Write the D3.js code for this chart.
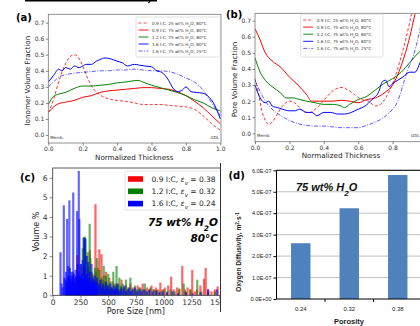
<!DOCTYPE html>
<html>
<head>
<meta charset="utf-8">
<script src="https://cdn.jsdelivr.net/npm/d3@7"></script>
<style>
  body { margin: 0; background: #fff; }
  svg { display: block; font-family: "DejaVu Sans", sans-serif; }
</style>
</head>
<body>
<svg id="fig" width="420" height="326"></svg>
<script>
// ---- data ----
const seriesLabels = [
  "0.9 I:C, 25 wt% H2O, 80°C",
  "0.9 I:C, 75 wt% H2O, 80°C",
  "1.2 I:C, 75 wt% H2O, 80°C",
  "1.6 I:C, 75 wt% H2O, 80°C",
  "1.6 I:C, 75 wt% H2O, 25°C"
];
const thicknessTicks = [0, 0.2, 0.4, 0.6, 0.8, 1.0];
const fractionTicks = [0, 0.1, 0.2, 0.3, 0.4, 0.5, 0.6, 0.7];

// (a) ionomer volume fraction vs normalized thickness
const ionomer25 = [[0,0.14],[0.03,0.22],[0.06,0.33],[0.09,0.42],[0.12,0.48],[0.15,0.50],[0.17,0.49],[0.2,0.43],[0.23,0.35],[0.26,0.29],[0.3,0.25],[0.35,0.225],[0.4,0.215],[0.45,0.21],[0.5,0.20],[0.55,0.19],[0.6,0.19],[0.65,0.19],[0.7,0.185],[0.75,0.18],[0.8,0.175],[0.85,0.16],[0.9,0.12],[0.95,0.07],[1.0,0.03]];
const ionomer09 = [[0,0.14],[0.05,0.19],[0.1,0.205],[0.15,0.215],[0.2,0.235],[0.25,0.245],[0.3,0.265],[0.35,0.275],[0.4,0.28],[0.45,0.285],[0.5,0.29],[0.55,0.295],[0.6,0.295],[0.65,0.29],[0.7,0.285],[0.75,0.27],[0.8,0.245],[0.85,0.21],[0.9,0.17],[0.95,0.12],[1.0,0.07]];
const ionomer12 = [[0,0.19],[0.03,0.24],[0.06,0.255],[0.1,0.265],[0.15,0.29],[0.2,0.305],[0.25,0.305],[0.3,0.31],[0.35,0.315],[0.4,0.325],[0.45,0.33],[0.52,0.34],[0.55,0.33],[0.6,0.31],[0.65,0.295],[0.7,0.28],[0.75,0.265],[0.8,0.245],[0.85,0.22],[0.9,0.2],[0.95,0.17],[1.0,0.15]];
const ionomer16 = [[0,0.33],[0.03,0.37],[0.06,0.41],[0.08,0.40],[0.1,0.42],[0.13,0.41],[0.15,0.43],[0.18,0.42],[0.2,0.43],[0.22,0.44],[0.25,0.44],[0.28,0.46],[0.3,0.47],[0.33,0.48],[0.36,0.475],[0.4,0.46],[0.43,0.45],[0.46,0.43],[0.5,0.44],[0.53,0.435],[0.56,0.43],[0.6,0.425],[0.63,0.40],[0.66,0.39],[0.7,0.34],[0.72,0.30],[0.75,0.27],[0.78,0.28],[0.8,0.30],[0.83,0.27],[0.86,0.265],[0.9,0.26],[0.93,0.24],[0.96,0.2],[1.0,0.1]];
const ionomer16c = [[0,0.30],[0.03,0.33],[0.06,0.36],[0.1,0.375],[0.15,0.385],[0.2,0.39],[0.25,0.395],[0.3,0.40],[0.35,0.40],[0.4,0.405],[0.45,0.405],[0.5,0.41],[0.55,0.405],[0.6,0.40],[0.65,0.40],[0.7,0.395],[0.75,0.38],[0.8,0.355],[0.85,0.33],[0.9,0.28],[0.95,0.2],[1.0,0.12]];

// (b) pore volume fraction vs normalized thickness
const pore25 = [[0,0.34],[0.02,0.25],[0.04,0.14],[0.06,0.08],[0.08,0.055],[0.1,0.07],[0.13,0.12],[0.16,0.17],[0.2,0.20],[0.23,0.19],[0.26,0.16],[0.29,0.13],[0.32,0.13],[0.35,0.15],[0.38,0.18],[0.42,0.23],[0.46,0.27],[0.5,0.285],[0.54,0.27],[0.58,0.24],[0.62,0.21],[0.66,0.2],[0.7,0.17],[0.73,0.18],[0.76,0.22],[0.8,0.31],[0.84,0.44],[0.88,0.6],[0.91,0.74],[0.93,0.82]];
const pore09 = [[0,0.65],[0.03,0.58],[0.06,0.5],[0.1,0.45],[0.15,0.41],[0.2,0.35],[0.25,0.3],[0.3,0.24],[0.33,0.2],[0.36,0.2],[0.4,0.2],[0.45,0.2],[0.5,0.205],[0.55,0.2],[0.6,0.19],[0.65,0.21],[0.7,0.22],[0.75,0.25],[0.8,0.3],[0.85,0.42],[0.9,0.6],[0.93,0.74],[0.95,0.82]];
const pore12 = [[0,0.47],[0.03,0.38],[0.06,0.33],[0.1,0.29],[0.15,0.25],[0.18,0.22],[0.22,0.22],[0.26,0.21],[0.3,0.2],[0.35,0.19],[0.4,0.18],[0.45,0.18],[0.5,0.17],[0.52,0.16],[0.55,0.18],[0.6,0.21],[0.65,0.23],[0.7,0.27],[0.75,0.31],[0.8,0.34],[0.85,0.38],[0.9,0.44],[0.95,0.5],[1.0,0.54]];
const pore16 = [[0,0.3],[0.03,0.22],[0.06,0.19],[0.08,0.2],[0.1,0.17],[0.13,0.16],[0.16,0.15],[0.2,0.14],[0.23,0.14],[0.26,0.15],[0.3,0.13],[0.33,0.13],[0.36,0.11],[0.4,0.13],[0.44,0.13],[0.48,0.12],[0.52,0.12],[0.56,0.13],[0.6,0.15],[0.64,0.17],[0.68,0.21],[0.72,0.26],[0.74,0.32],[0.76,0.33],[0.78,0.29],[0.8,0.31],[0.83,0.33],[0.86,0.35],[0.9,0.38],[0.93,0.38],[0.96,0.44],[1.0,0.55]];
const pore16c = [[0,0.33],[0.03,0.26],[0.06,0.2],[0.1,0.15],[0.15,0.11],[0.2,0.08],[0.25,0.06],[0.3,0.05],[0.35,0.045],[0.4,0.045],[0.45,0.04],[0.5,0.035],[0.55,0.035],[0.6,0.035],[0.65,0.05],[0.7,0.07],[0.75,0.1],[0.8,0.15],[0.83,0.2],[0.86,0.3],[0.89,0.4],[0.92,0.48],[0.95,0.6],[0.97,0.7],[0.99,0.78]];
const poreThicknessTicks = [0, 0.2, 0.4, 0.6, 0.8];

// (c) pore size distribution, [pore size nm, volume %]
const poreSizeTicks = [0, 250, 500, 750, 1000, 1250, 1500];
const volumeTicks = [0, 1, 2, 3, 4, 5, 6];
const histLabels = ["0.9 I:C, ", "1.2 I:C, ", "1.6 I:C, "];
const histPorosity = ["0.38", "0.32", "0.24"];
const hist09 = [[220,2.05],[230,0.5],[245,0.9],[260,1.5],[275,0.8],[290,2.6],[300,1.0],[310,0.7],[320,1.3],[335,2.3],[345,0.6],[360,1.1],[372,0.8],[385,4.65],[395,0.9],[405,1.4],[420,2.35],[430,0.7],[440,2.1],[450,0.8],[460,1.0],[470,0.6],[480,1.2],[495,0.5],[510,0.9],[525,0.4],[540,0.7],[555,0.3],[570,0.5],[590,0.6],[605,0.3],[620,0.8],[640,0.4],[660,0.5],[680,0.3],[700,0.6],[720,0.4],[745,0.3],[765,0.5],[790,0.4],[810,0.6],[830,0.3],[850,0.4],[870,0.3],[890,0.5],[910,0.3],[930,0.4],[950,0.3],[970,0.65],[990,0.3],[1010,0.4],[1040,0.5],[1067,0.95],[1090,0.3],[1120,0.4],[1140,0.3],[1167,1.5],[1190,0.3],[1215,0.4],[1240,0.3],[1257,1.3],[1280,0.2],[1300,0.3],[1330,0.5],[1363,0.85],[1378,1.4],[1400,0.3],[1430,0.2],[1460,0.3],[1485,0.45]];
const hist12 = [[130,0.5],[150,0.8],[165,0.6],[180,1.2],[200,0.7],[215,0.9],[230,1.0],[240,0.6],[250,1.6],[260,1.0],[270,2.4],[280,2.95],[290,3.0],[297,2.9],[305,2.0],[315,2.2],[325,1.5],[333,3.65],[340,1.9],[350,1.2],[360,1.0],[370,0.7],[380,1.4],[390,1.2],[400,1.9],[410,0.6],[420,1.3],[430,0.8],[440,0.9],[450,0.6],[460,1.5],[470,0.7],[480,1.0],[490,0.6],[500,1.1],[510,0.5],[520,0.7],[530,0.4],[546,1.2],[560,0.6],[575,1.5],[590,0.5],[600,0.9],[615,0.5],[630,0.6],[645,0.4],[660,0.8],[680,0.4],[700,0.9],[720,0.3],[740,0.5],[760,0.3],[780,0.4],[800,0.3],[830,0.6],[850,0.2],[880,0.4],[910,0.3],[940,0.25],[970,0.2],[1000,0.3],[1030,0.2],[1060,0.3],[1100,0.2],[1140,0.35],[1180,0.6],[1200,0.2],[1240,0.3],[1302,0.8],[1340,0.2],[1400,0.2],[1460,0.2]];
const hist16 = [[70,2.2],[80,0.6],[90,0.4],[100,4.6],[105,0.9],[115,0.8],[120,1.2],[125,0.7],[130,3.9],[135,0.9],[140,1.5],[145,1.0],[150,4.85],[155,1.4],[160,1.0],[165,0.8],[170,1.2],[175,0.7],[180,1.0],[185,5.25],[190,1.1],[195,0.9],[200,0.6],[205,1.3],[210,1.0],[215,0.8],[220,4.3],[225,1.6],[230,1.2],[235,6.35],[240,3.9],[245,1.0],[250,0.9],[255,1.6],[260,0.8],[265,1.1],[270,1.8],[275,0.9],[280,2.95],[285,1.4],[290,2.9],[295,1.0],[300,0.8],[305,2.0],[310,1.1],[315,0.7],[320,1.7],[325,0.9],[330,0.6],[335,1.2],[340,0.8],[345,0.5],[350,1.6],[355,0.7],[360,0.9],[365,0.5],[370,0.8],[375,0.6],[380,1.0],[385,0.5],[390,0.7],[395,0.4],[400,0.9],[410,0.6],[420,0.5],[430,0.8],[440,0.4],[450,0.6],[460,0.5],[470,0.3],[480,0.7],[490,0.4],[500,0.5],[510,0.3],[520,0.6],[530,0.4],[540,0.3],[550,0.5],[560,0.3],[570,0.4],[580,0.6],[590,0.3],[600,0.2],[615,0.4],[630,0.3],[645,0.5],[660,0.2],[675,0.3],[690,0.4],[705,0.2],[720,0.3],[740,0.4],[760,0.2],[780,0.3],[800,0.2],[820,0.3],[845,0.2],[870,0.3],[900,0.2],[930,0.25],[960,0.15],[990,0.2],[1030,0.15],[1080,0.2],[1130,0.1],[1200,0.15],[1260,0.1],[1330,0.15],[1400,0.3],[1480,0.3]];

// (d) oxygen diffusivity vs porosity
const porosity = ["0.24", "0.32", "0.38"];
const diffusivity = [2.6e-7, 4.23e-7, 5.78e-7];
const diffusivityTicks = [0, 1e-7, 2e-7, 3e-7, 4e-7, 5e-7, 6e-7];

// ---- styles ----
const lineStyles = [
  { color: "#ff0000", dash: "3,2", op: 0.8 },
  { color: "#ff0000", dash: null, op: 1 },
  { color: "#008000", dash: null, op: 1 },
  { color: "#0000ff", dash: null, op: 1 },
  { color: "#0000ff", dash: "4,1.5,1,1.5", op: 0.65 }
];
const histColors = ["#ff0000", "#008000", "#0000ff"];

const svg = d3.select("#fig");
svg.append("rect").attr("width", 420).attr("height", 326).attr("fill", "#fff");

// writes "H2O" with a subscript 2
function withH2O(text, str, subSize) {
  const parts = str.split("H2O");
  parts.forEach((p, i) => {
    text.append("tspan").text(p + (i < parts.length - 1 ? "H" : ""));
    if (i < parts.length - 1) {
      text.append("tspan").attr("baseline-shift", "sub").attr("font-size", subSize).text("2");
      text.append("tspan").text("O");
    }
  });
}

function styleAxis(a, fs) {
  a.select(".domain").remove();
  a.selectAll(".tick line").attr("stroke", "#555").attr("stroke-width", 0.7);
  a.selectAll(".tick text").attr("fill", "#333").attr("font-size", fs).attr("font-family", "DejaVu Sans");
}

// top strip left over from the figure above
svg.append("line").attr("x1", 25).attr("x2", 157).attr("y1", 0.8).attr("y2", 0.8)
  .attr("stroke", "#000").attr("stroke-width", 1.6);
svg.append("path").attr("d", "M150.5,0 L148.5,3.2").attr("stroke", "#000").attr("stroke-width", 1.2);

// ---- (a) and (b): thickness profiles ----
function profilePanel(cfg) {
  const g = svg.append("g");
  const x = d3.scaleLinear().domain([0, 1]).range([cfg.x0, cfg.x0 + 172]);
  const y = d3.scaleLinear().domain(cfg.yDom).range([cfg.bottom, cfg.top]);
  const clipId = cfg.id + "-clip";
  svg.append("clipPath").attr("id", clipId).append("rect")
    .attr("x", cfg.x0).attr("y", cfg.top)
    .attr("width", cfg.right - cfg.x0).attr("height", cfg.bottom - cfg.top);

  const line = d3.line().x(d => x(d[0])).y(d => y(d[1])).curve(d3.curveMonotoneX);
  const lg = g.append("g").attr("clip-path", `url(#${clipId})`);
  cfg.series.forEach((s, i) => {
    lg.append("path").datum(s)
      .attr("fill", "none")
      .attr("stroke", lineStyles[i].color)
      .attr("stroke-width", 1)
      .attr("stroke-dasharray", lineStyles[i].dash)
      .attr("opacity", lineStyles[i].op)
      .attr("d", line);
  });

  g.append("rect").attr("x", cfg.x0).attr("y", cfg.top)
    .attr("width", cfg.right - cfg.x0).attr("height", cfg.bottom - cfg.top)
    .attr("fill", "none").attr("stroke", "#777").attr("stroke-width", 0.8);

  const xa = g.append("g").attr("transform", `translate(0,${cfg.bottom})`)
    .call(d3.axisBottom(x).tickValues(cfg.xTicks).tickFormat(d3.format(".1f")).tickSize(2.5).tickPadding(1.5));
  styleAxis(xa, 6);
  const ya = g.append("g").attr("transform", `translate(${cfg.x0},0)`)
    .call(d3.axisLeft(y).tickValues(fractionTicks).tickFormat(d3.format(".1f")).tickSize(2.5).tickPadding(1.5));
  styleAxis(ya, 6);

  g.append("text").attr("x", cfg.x0 + 86).attr("y", cfg.bottom + 16.5)
    .attr("text-anchor", "middle").attr("font-size", 7.2).attr("fill", "#222")
    .text("Normalized Thickness");
  g.append("text").attr("transform", `translate(${cfg.ylabX},${(cfg.top + cfg.bottom) / 2 + 2}) rotate(-90)`)
    .attr("text-anchor", "middle").attr("font-size", 7.2).attr("fill", "#222")
    .text(cfg.ylabel);
  g.append("text").attr("x", cfg.tagX).attr("y", cfg.tagY)
    .attr("font-size", 10).attr("font-weight", "bold").text(cfg.tag);

  g.append("text").attr("x", cfg.x0 + 2).attr("y", y(0) + 4).attr("font-size", 4).attr("fill", "#333").text("Memb.");
  g.append("text").attr("x", cfg.gdlX).attr("y", y(0) + 4).attr("font-size", 4).attr("fill", "#333")
    .attr("text-anchor", "end").text("GDL");

  // legend
  const L = cfg.legend;
  const leg = g.append("g");
  leg.append("rect").attr("x", L.x).attr("y", L.y).attr("width", L.w).attr("height", L.h)
    .attr("rx", 1.5).attr("fill", "#fff").attr("fill-opacity", 0.85)
    .attr("stroke", "#ccc").attr("stroke-width", 0.6);
  seriesLabels.forEach((lab, i) => {
    const ry = L.y + 6 + i * L.step;
    leg.append("line").attr("x1", L.x + 2.5).attr("x2", L.x + 12.5).attr("y1", ry).attr("y2", ry)
      .attr("stroke", lineStyles[i].color).attr("stroke-width", 0.9)
      .attr("stroke-dasharray", lineStyles[i].dash).attr("opacity", lineStyles[i].op);
    const t = leg.append("text").attr("x", L.x + 16).attr("y", ry + 1.5)
      .attr("font-size", 4.2).attr("fill", "#333");
    withH2O(t, lab, 3);
  });
}

profilePanel({
  id: "pa", tag: "(a)", tagX: 16, tagY: 20.5,
  x0: 48.3, right: 221, top: 14.3, bottom: 143, yDom: [-0.05, 0.752],
  xTicks: thicknessTicks, gdlX: 219,
  ylabel: "Ionomer Volume Fraction", ylabX: 30,
  series: [ionomer25, ionomer09, ionomer12, ionomer16, ionomer16c],
  legend: { x: 136, y: 17, w: 84, h: 40, step: 7 }
});

profilePanel({
  id: "pb", tag: "(b)", tagX: 226, tagY: 17.5,
  x0: 255, right: 440, top: 13.3, bottom: 141.7, yDom: [-0.052, 0.746],
  xTicks: poreThicknessTicks, gdlX: 419.5,
  ylabel: "Pore Volume Fraction", ylabX: 237,
  series: [pore25, pore09, pore12, pore16, pore16c],
  legend: { x: 300.7, y: 14, w: 82.3, h: 43, step: 7.1 }
});

// ---- (c): pore size histogram ----
{
  const g = svg.append("g");
  const left = 52.7, right = 221, top = 168, bottom = 295.3;
  const x = d3.scaleLinear().domain([0, 1516]).range([left, right]);
  const y = d3.scaleLinear().domain([0, 6.5]).range([bottom, top]);
  [hist09, hist12, hist16].forEach((h, i) => {
    g.append("g").selectAll("rect").data(h).join("rect")
      .attr("x", d => x(d[0]) - 1.1).attr("width", 2.2)
      .attr("y", d => y(d[1])).attr("height", d => bottom - y(d[1]))
      .attr("fill", histColors[i]).attr("fill-opacity", 0.6);
  });
  g.append("rect").attr("x", left).attr("y", top).attr("width", right - left).attr("height", bottom - top)
    .attr("fill", "none").attr("stroke", "#333").attr("stroke-width", 0.8);
  const xa = g.append("g").attr("transform", `translate(0,${bottom})`)
    .call(d3.axisBottom(x).tickValues(poreSizeTicks).tickFormat(d3.format("d")).tickSize(3).tickPadding(1.5));
  styleAxis(xa, 7.6);
  const ya = g.append("g").attr("transform", `translate(${left},0)`)
    .call(d3.axisLeft(y).tickValues(volumeTicks).tickFormat(d3.format("d")).tickSize(3).tickPadding(2));
  styleAxis(ya, 7.6);
  g.append("text").attr("x", (left + 219) / 2).attr("y", 314).attr("text-anchor", "middle")
    .attr("font-size", 8).attr("fill", "#222").text("Pore Size [nm]");
  g.append("text").attr("transform", `translate(39,${(top + bottom) / 2}) rotate(-90)`)
    .attr("text-anchor", "middle").attr("font-size", 8).attr("fill", "#222").text("Volume %");
  g.append("text").attr("x", 20).attr("y", 180.5).attr("font-size", 10).attr("font-weight", "bold").text("(c)");

  const leg = g.append("g");
  leg.append("rect").attr("x", 125).attr("y", 171).attr("width", 100).attr("height", 39)
    .attr("rx", 1.5).attr("fill", "#fff").attr("fill-opacity", 0.85).attr("stroke", "#ccc").attr("stroke-width", 0.6);
  histLabels.forEach((lab, i) => {
    const ry = 179 + i * 12.3;
    leg.append("rect").attr("x", 128).attr("y", ry - 2.8).attr("width", 15).attr("height", 5.6)
      .attr("fill", histColors[i]);
    const t = leg.append("text").attr("x", 151.5).attr("y", ry + 2.8).attr("font-size", 7.5).attr("fill", "#222");
    t.append("tspan").text(lab);
    t.append("tspan").attr("font-style", "italic").text("ε");
    t.append("tspan").attr("font-style", "italic").attr("baseline-shift", "sub").attr("font-size", 5.5).text("v");
    t.append("tspan").text(" = " + histPorosity[i]);
  });
  const a1 = g.append("text").attr("x", 218).attr("y", 226).attr("text-anchor", "end")
    .attr("font-size", 10.5).attr("font-weight", "bold").attr("font-style", "italic");
  withH2O(a1, "75 wt% H2O", 7.5);
  g.append("text").attr("x", 218).attr("y", 242).attr("text-anchor", "end")
    .attr("font-size", 10.5).attr("font-weight", "bold").attr("font-style", "italic").text("80°C");
}

// ---- (d): oxygen diffusivity bars ----
{
  const g = svg.append("g").attr("font-family", "Liberation Sans, Arial, sans-serif");
  g.append("rect").attr("x", 221).attr("y", 163).attr("width", 199).attr("height", 163).attr("fill", "#fff");
  g.append("line").attr("x1", 220.5).attr("x2", 220.5).attr("y1", 163).attr("y2", 312)
    .attr("stroke", "#333").attr("stroke-width", 1);
  const left = 276.5, top = 170.3, bottom = 299;
  const x = d3.scaleBand().domain(porosity).range([left, 422]);
  const y = d3.scaleLinear().domain([0, 6e-7]).range([bottom, top]);
  g.append("g").selectAll("line").data(diffusivityTicks.slice(1)).join("line")
    .attr("x1", left).attr("x2", 422).attr("y1", d => y(d)).attr("y2", d => y(d))
    .attr("stroke", "#b0b0b0").attr("stroke-width", 0.8);
  g.append("g").selectAll("rect").data(diffusivity).join("rect")
    .attr("x", (d, i) => x(porosity[i]) + x.bandwidth() * 0.3)
    .attr("width", x.bandwidth() * 0.4)
    .attr("y", d => y(d)).attr("height", d => bottom - y(d))
    .attr("fill", "#4f81bd");
  g.append("line").attr("x1", left).attr("x2", 422).attr("y1", top).attr("y2", top).attr("stroke", "#000").attr("stroke-width", 1);
  g.append("line").attr("x1", left).attr("x2", left).attr("y1", top).attr("y2", bottom).attr("stroke", "#000").attr("stroke-width", 1);
  g.append("line").attr("x1", left).attr("x2", 422).attr("y1", bottom).attr("y2", bottom).attr("stroke", "#000").attr("stroke-width", 1);

  const fmt = d => d === 0 ? "0.0E+00" : (d / 1e-7).toFixed(1) + "E-07";
  const ya = g.append("g").attr("transform", `translate(${left},0)`)
    .call(d3.axisLeft(y).tickValues(diffusivityTicks).tickFormat(fmt).tickSize(3).tickPadding(2));
  ya.select(".domain").remove();
  ya.selectAll(".tick line").attr("stroke", "#000");
  ya.selectAll(".tick text").attr("font-size", 5.6).attr("fill", "#222").attr("font-family", "Liberation Sans");
  const xa = g.append("g").attr("transform", `translate(0,${bottom})`)
    .call(d3.axisBottom(x).tickSize(0).tickPadding(8));
  xa.select(".domain").remove();
  xa.selectAll(".tick text").attr("font-size", 6).attr("fill", "#222").attr("font-family", "Liberation Sans");
  g.append("g").selectAll("line").data(porosity.slice(1)).join("line")
    .attr("x1", d => x(d)).attr("x2", d => x(d)).attr("y1", bottom).attr("y2", bottom + 3)
    .attr("stroke", "#000");

  g.append("text").attr("x", 349).attr("y", 324).attr("text-anchor", "middle")
    .attr("font-size", 7.5).attr("font-weight", "bold").attr("fill", "#222").text("Porosity");
  const yl = g.append("text").attr("transform", `translate(240.5,252) rotate(-90)`)
    .attr("text-anchor", "middle").attr("font-size", 6.6).attr("font-weight", "bold").attr("fill", "#222");
  yl.append("tspan").text("Oxygen Diffusivity, m");
  yl.append("tspan").attr("baseline-shift", "super").attr("font-size", 4.5).text("2");
  yl.append("tspan").text("·s");
  yl.append("tspan").attr("baseline-shift", "super").attr("font-size", 4.5).text("-1");
  g.append("text").attr("x", 228.5).attr("y", 179).attr("font-size", 10).attr("font-weight", "bold")
    .attr("font-family", "DejaVu Sans").text("(d)");
  const ann = g.append("text").attr("x", 296).attr("y", 191)
    .attr("font-size", 11).attr("font-weight", "bold").attr("font-style", "italic").attr("fill", "#111");
  withH2O(ann, "75 wt% H2O", 8);
}
</script>
</body>
</html>
